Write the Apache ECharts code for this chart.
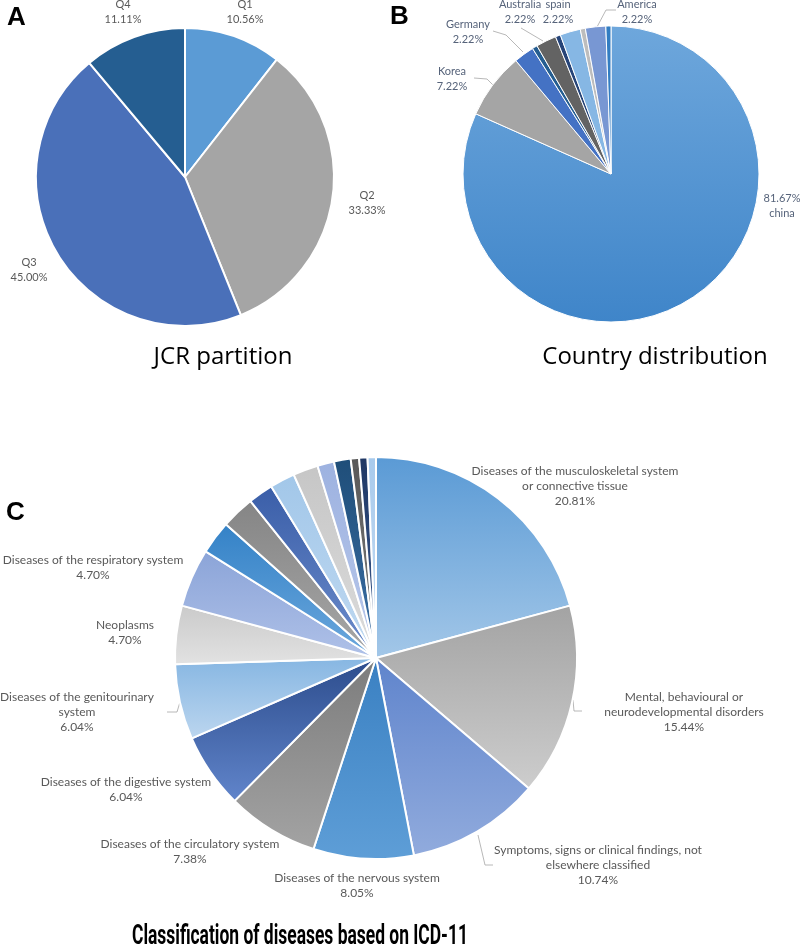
<!DOCTYPE html>
<html><head><meta charset="utf-8">
<script src="https://cdn.jsdelivr.net/npm/echarts@6/dist/echarts.min.js"></script>
<style>html,body{margin:0;padding:0;background:#fff}#c{width:800px;height:949px}</style>
</head><body><div id="c"></div>
<script>
// ---------- DATA ----------
const jcrCategories = ['Q1', 'Q2', 'Q3', 'Q4'];
const jcrCounts = [19, 60, 81, 20];

const countryCategories = ['china', 'Korea', 'Germany', 'Other 1', 'Australia', 'Other 2', 'spain', 'Other 3', 'America', 'Other 4'];
const countryCounts = [147, 13, 4, 1, 4, 1, 4, 1, 4, 1];
const countryLabelShown = [true, true, true, false, true, false, true, false, true, false];

const icdCategories = [
  'Diseases of the musculoskeletal system\nor connective tissue',
  'Mental, behavioural or\nneurodevelopmental disorders',
  'Symptoms, signs or clinical findings, not\nelsewhere classified',
  'Diseases of the nervous system',
  'Diseases of the circulatory system',
  'Diseases of the digestive system',
  'Diseases of the genitourinary\nsystem',
  'Neoplasms',
  'Diseases of the respiratory system',
  'Other 1', 'Other 2', 'Other 3', 'Other 4', 'Other 5', 'Other 6', 'Other 7', 'Other 8', 'Other 9', 'Other 10'
];
const icdCounts = [31, 23, 16, 12, 11, 9, 9, 7, 7, 4, 4, 3, 3, 3, 2, 2, 1, 1, 1];
const icdLabelShown = [true, true, true, true, true, true, true, true, true, false, false, false, false, false, false, false, false, false, false];

// ---------- STYLE / LAYOUT ----------
const jcrColors = ['#5B9BD5', '#A5A5A5', '#4A70B9', '#255E91'];
const countryColors = [
  ['#6EA7DC', '#3F85C9'], '#A5A5A5', '#4472C4', '#255E91', '#636363',
  '#264478', '#86B7E4', '#BDBDBD', '#7897D3', '#327DC2'
];
const icdColors = [
  ['#5A9AD5', '#A3C7E8'], ['#A3A3A3', '#CDCDCD'], ['#5F84CC', '#91ABDD'], ['#3A80C2', '#5E9ED7'],
  ['#7C7C7C', '#A3A3A3'], ['#2C4C8C', '#6185CB'], ['#86B6E2', '#BCD6EF'], ['#CACACA', '#E2E2E2'],
  ['#8BA4D8', '#AFC1E8'], ['#3482C7', '#6CA8DD'], ['#858585', '#A7A7A7'], ['#3A5EA8', '#6D8DCC'],
  ['#A2C7E9', '#C0D9F1'], ['#C6C6C6', '#DCDCDC'], ['#9DB2E0', '#B9C8EB'], ['#1F4E79', '#3C6FA6'],
  ['#595959', '#7C7C7C'], ['#203864', '#3A5A90'], ['#A8CAEC', '#C6DDF3']
];

const jcrLabelPos = [[245, 12], [367, 203], [29, 270], [123, 12]];
const countryLabelPos = [[782, 206], [452, 79], [468, 32], null, [520, 12], null, [558, 12], null, [637, 12], null];
const icdLabelPos = [[575, 486], [684, 712], [598, 865], [357, 886], [190, 852], [126, 790], [77, 712], [125, 633], [93, 568]];
// leader-line hooks drawn beside some labels
const countryHooks = {
  1: [[474, 78], [487, 79], [493, 85]],
  2: [[493, 31], [506, 35], [523, 52]],
  4: [[521, 28], [543, 41]],
  8: [[616, 10], [606, 10], [597, 27]]
};
const icdHooks = {
  1: [[573, 700], [574, 711], [582, 711]],
  2: [[478, 835], [485, 865], [493, 865]],
  6: [[180, 702], [177, 712], [167, 712]]
};

function grad(c) {
  if (!Array.isArray(c)) return c;
  return { type: 'linear', x: 0, y: 0, x2: 0, y2: 1, colorStops: [{ offset: 0, color: c[0] }, { offset: 1, color: c[1] }] };
}
function layoutFrom(table, hooks) {
  return function (p) {
    const pos = table[p.dataIndex];
    if (!pos) return {};
    const o = { x: pos[0], y: pos[1], align: 'center', verticalAlign: 'middle' };
    if (hooks && hooks[p.dataIndex]) o.labelLinePoints = hooks[p.dataIndex];
    return o;
  };
}

const chart = echarts.init(document.getElementById('c'), null, { renderer: 'canvas' });

const titleText = 'Classification of diseases based on ICD-11';
const ctx = document.createElement('canvas').getContext('2d');
ctx.font = 'bold 28px Roboto';
const titleScale = 336 / ctx.measureText(titleText).width;

chart.setOption({
  animation: false,
  backgroundColor: '#fff',
  graphic: [
    { type: 'text', x: 7, y: 5, style: { text: 'A', font: 'bold 26px "Liberation Sans"', fill: '#000' } },
    { type: 'text', x: 390, y: 4, style: { text: 'B', font: 'bold 26px "Liberation Sans"', fill: '#000' } },
    { type: 'text', x: 6, y: 500, style: { text: 'C', font: 'bold 26px "Liberation Sans"', fill: '#000' } },
    { type: 'text', x: 223, y: 357, style: { text: 'JCR partition', font: '24px "Open Sans"', fill: '#000', align: 'center', verticalAlign: 'middle' } },
    { type: 'text', x: 655, y: 357, style: { text: 'Country distribution', font: '24px "Open Sans"', fill: '#000', align: 'center', verticalAlign: 'middle' } },
    { type: 'text', x: 300, y: 937, scaleX: titleScale, style: { text: titleText, font: 'bold 28px Roboto', fill: '#000', align: 'center', verticalAlign: 'middle' } }
  ],
  series: [
    {
      type: 'pie', center: [185, 177], radius: [0, 149], startAngle: 90, clockwise: true,
      avoidLabelOverlap: false,
      itemStyle: { borderColor: '#fff', borderWidth: 2 },
      label: { show: true, position: 'outside', color: '#595959', fontFamily: 'Lato', fontSize: 11, lineHeight: 15,
        formatter: p => p.name + '\n' + p.percent.toFixed(2) + '%' },
      labelLine: { show: false },
      labelLayout: layoutFrom(jcrLabelPos),
      emphasis: { disabled: true },
      data: jcrCategories.map((n, i) => ({ name: n, value: jcrCounts[i], itemStyle: { color: jcrColors[i] } }))
    },
    {
      type: 'pie', center: [611, 174], radius: [0, 148], startAngle: 90, clockwise: true,
      avoidLabelOverlap: false,
      itemStyle: { borderColor: '#fff', borderWidth: 1 },
      label: { show: true, position: 'outside', color: '#56637A', fontFamily: 'Lato', fontSize: 11, lineHeight: 15,
        formatter: p => p.dataIndex === 0 ? p.percent.toFixed(2) + '%\n' + p.name : p.name + '\n' + p.percent.toFixed(2) + '%' },
      labelLine: { show: false, lineStyle: { color: '#A6A6A6', width: 0.8 } },
      labelLayout: layoutFrom(countryLabelPos, countryHooks),
      emphasis: { disabled: true },
      data: countryCategories.map((n, i) => ({
        name: n, value: countryCounts[i],
        itemStyle: { color: grad(countryColors[i]) },
        label: { show: countryLabelShown[i] },
        labelLine: { show: !!countryHooks[i] }
      }))
    },
    {
      type: 'pie', center: [376, 658], radius: [0, 201], startAngle: 90, clockwise: true,
      avoidLabelOverlap: false,
      itemStyle: { borderColor: '#fff', borderWidth: 2 },
      label: { show: true, position: 'outside', color: '#595959', fontFamily: 'Lato', fontSize: 12, lineHeight: 15,
        formatter: p => p.name + '\n' + p.percent.toFixed(2) + '%' },
      labelLine: { show: false, lineStyle: { color: '#A6A6A6', width: 0.8 } },
      labelLayout: layoutFrom(icdLabelPos, icdHooks),
      emphasis: { disabled: true },
      data: icdCategories.map((n, i) => ({
        name: n, value: icdCounts[i],
        itemStyle: { color: grad(icdColors[i]) },
        label: { show: icdLabelShown[i] },
        labelLine: { show: !!icdHooks[i] }
      }))
    }
  ]
});
</script>
</body></html>
